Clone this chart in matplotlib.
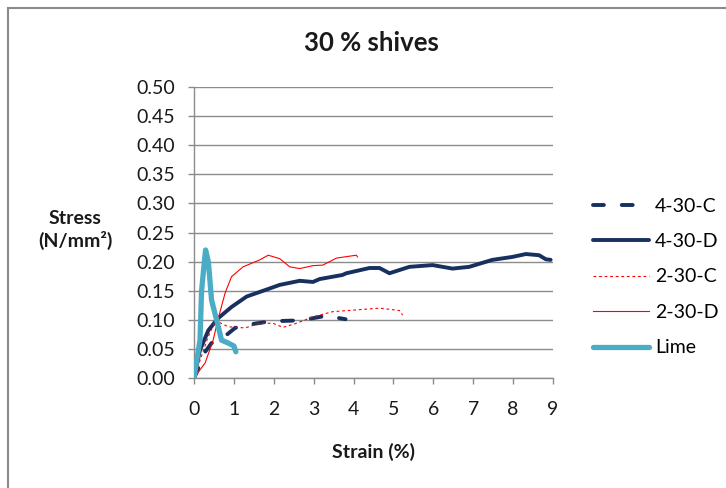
import matplotlib
matplotlib.use("Agg")
import matplotlib.pyplot as plt
from matplotlib.patches import Rectangle

# Stress-strain curves, 30 % shives
strain_4_30_C = [0.0, 0.07, 0.15, 0.28, 0.44, 0.6, 0.78, 1.03, 1.3, 1.78, 2.2, 2.65, 3.0, 3.32, 3.55, 3.8]
stress_4_30_C = [0.0, 0.01, 0.025, 0.045, 0.06, 0.065, 0.072, 0.086, 0.091, 0.096, 0.098, 0.099, 0.103, 0.107, 0.104, 0.101]

strain_4_30_D = [0.0, 0.15, 0.36, 0.61, 0.94, 1.32, 1.78, 2.15, 2.65, 2.98, 3.15, 3.72, 3.82, 4.4, 4.65,
                 4.9, 5.4, 5.98, 6.48, 6.9, 7.48, 7.98, 8.32, 8.65, 8.82, 8.94]
stress_4_30_D = [0.0, 0.048, 0.082, 0.103, 0.122, 0.14, 0.151, 0.16, 0.167, 0.165, 0.17, 0.177, 0.18, 0.189, 0.189,
                 0.18, 0.191, 0.194, 0.188, 0.191, 0.203, 0.208, 0.213, 0.211, 0.204, 0.203]

strain_2_30_C = [0.0, 0.15, 0.35, 0.55, 0.65, 0.86, 1.28, 1.65, 1.98, 2.23, 2.57, 2.98, 3.48, 4.07, 4.65, 5.15, 5.23]
stress_2_30_C = [0.0, 0.03, 0.07, 0.1, 0.095, 0.088, 0.086, 0.094, 0.094, 0.087, 0.094, 0.105, 0.114, 0.117, 0.12, 0.116, 0.108]

strain_2_30_D = [0.0, 0.28, 0.48, 0.61, 0.78, 0.94, 1.23, 1.65, 1.86, 2.15, 2.4, 2.65, 2.98, 3.23, 3.57, 4.07, 4.1]
stress_2_30_D = [0.0, 0.026, 0.065, 0.103, 0.146, 0.174, 0.191, 0.203, 0.211, 0.205, 0.191, 0.188, 0.193, 0.194, 0.206, 0.211, 0.208]

strain_lime = [0.0, 0.15, 0.19, 0.26, 0.29, 0.36, 0.44, 0.61, 0.69, 0.86, 1.0, 1.05]
stress_lime = [0.0, 0.065, 0.15, 0.2, 0.22, 0.2, 0.134, 0.088, 0.065, 0.06, 0.055, 0.045]

x_ticks = list(range(0, 10))
y_ticks = [0.0, 0.05, 0.10, 0.15, 0.20, 0.25, 0.30, 0.35, 0.40, 0.45, 0.50]

NAVY = "#17305f"
RED = "#ff0000"
LIME = "#4bacc6"
GRID = "#8c8c8c"
TEXT = "#1a1a1a"

plt.rcParams["font.family"] = ["Lato", "DejaVu Sans"]

fig = plt.figure(figsize=(7.26, 4.88), dpi=100)
fig.patches.append(Rectangle((8 / 726, -0.1), 1.2, (488 - 8) / 488 + 0.1,
                             transform=fig.transFigure, fill=False,
                             edgecolor="#8a8a8a", linewidth=1.5))

ax = fig.add_axes([194 / 726, (488 - 378) / 488, (553 - 194) / 726, (378 - 87) / 488])

ax.plot(strain_4_30_C, stress_4_30_C, color=NAVY, lw=2.8, ls=(0, (2.8, 4.6)),
        solid_capstyle="round", dash_capstyle="round", label="4-30-C", zorder=3)
ax.plot(strain_4_30_D, stress_4_30_D, color=NAVY, lw=2.8, label="4-30-D",
        solid_capstyle="round", zorder=3)
ax.plot(strain_2_30_C, stress_2_30_C, color=RED, lw=0.8, ls=(0, (2.5, 2.5)), label="2-30-C", zorder=4)
ax.plot(strain_2_30_D, stress_2_30_D, color=RED, lw=0.8, label="2-30-D", zorder=4)
ax.plot(strain_lime, stress_lime, color=LIME, lw=3.8, label="Lime",
        solid_capstyle="round", zorder=5)

ax.set_xlim(0, 9)
ax.set_ylim(0, 0.5)
ax.set_xticks(x_ticks)
ax.set_yticks(y_ticks)
ax.set_yticklabels([f"{v:.2f}" for v in y_ticks])
ax.tick_params(axis="both", labelsize=14, colors=GRID, labelcolor=TEXT, length=4.5, width=1)
ax.tick_params(axis="x", pad=12)
ax.tick_params(axis="y", pad=9)

ax.grid(axis="y", color=GRID, lw=1)
ax.set_axisbelow(True)
for side in ("top", "right"):
    ax.spines[side].set_visible(False)
for side in ("left", "bottom"):
    ax.spines[side].set_color(GRID)
    ax.spines[side].set_linewidth(1)

fig.text(371 / 726, 1 - 43 / 488, "30 % shives", ha="center", va="center",
         fontsize=18.5, fontweight="bold", color=TEXT)
fig.text(373 / 726, 1 - 452 / 488, "Strain (%)", ha="center", va="center",
         fontsize=14, fontweight="bold", color=TEXT)
fig.text(75 / 726, 1 - 230 / 488, "Stress\n(N/mm²)", ha="center", va="center",
         fontsize=14, fontweight="bold", color=TEXT, linespacing=1.2)

ax.legend(loc="center left", bbox_to_anchor=(593 / 726, 1 - 277 / 488),
          bbox_transform=fig.transFigure, frameon=False, fontsize=14,
          handlelength=2.9, handletextpad=0.3, labelspacing=0.95,
          borderpad=0, borderaxespad=0)

fig.savefig("out.png", dpi=100)
